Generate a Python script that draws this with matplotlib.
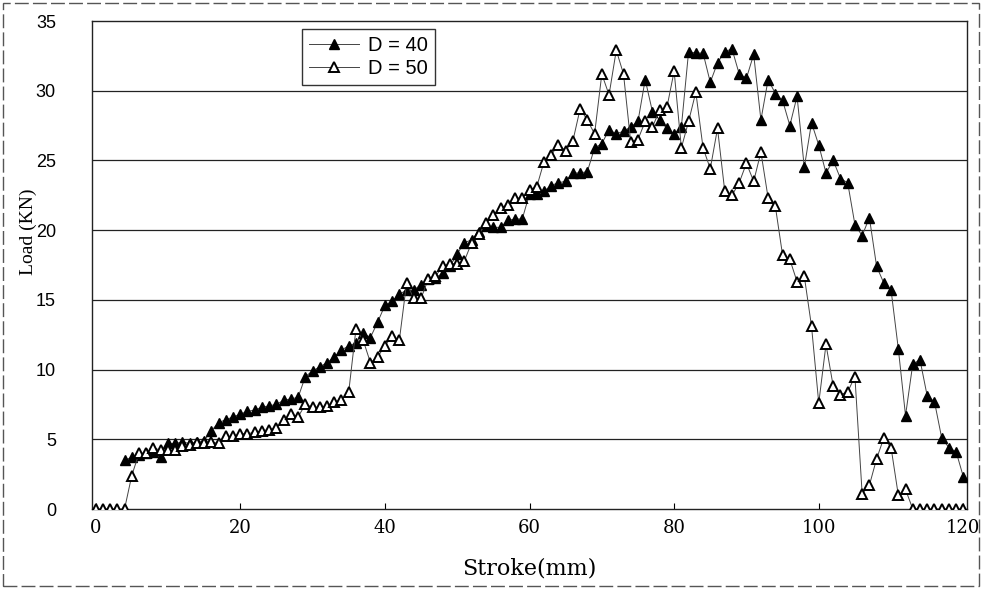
import matplotlib
matplotlib.use("Agg")
import matplotlib.pyplot as plt
from matplotlib.patches import Rectangle

# stroke categories (mm), one reading per mm
stroke_d50 = list(range(0, 121))
stroke_d40 = list(range(4, 121))

load_d40 = [
    3.5, 3.7, 3.9, 4.0, 4.1, 3.7, 4.7, 4.7, 4.8, 4.7, 4.8, 4.9, 5.6, 6.2, 6.4, 6.6,
    6.8, 7.0, 7.1, 7.3, 7.4, 7.5, 7.8, 7.9, 8.0,
    9.5, 9.9, 10.2, 10.5, 10.9, 11.4, 11.7, 11.9, 12.6, 12.3,
    13.4, 14.6, 14.9, 15.4, 15.7, 15.7, 16.1, 16.5, 16.6, 16.9,
    17.4, 18.3, 19.1, 19.3, 19.9, 20.3, 20.2, 20.2, 20.7, 20.8,
    20.8, 22.6, 22.6, 22.8, 23.2, 23.4, 23.5, 24.1, 24.1, 24.2,
    25.9, 26.2, 27.2, 26.9, 27.1, 27.4, 27.8, 30.8, 28.5, 27.9,
    27.3, 26.9, 27.4, 32.8, 32.7, 32.7, 30.6, 32.0, 32.8, 33.0,
    31.2, 30.9, 32.6, 27.9, 30.8, 29.8, 29.3, 27.5, 29.6, 24.5,
    27.7, 26.1, 24.1, 25.0, 23.7, 23.4, 20.4, 19.6, 20.9, 17.4,
    16.2, 15.7, 11.5, 6.7, 10.4, 10.7, 8.1, 7.7, 5.1, 4.4,
    4.1, 2.3,
]

load_d50 = [
    0, 0, 0, 0, 0, 2.4, 4.0, 4.0, 4.4, 4.2,
    4.2, 4.2, 4.5, 4.6, 4.7, 4.7, 4.8, 4.7, 5.2, 5.2,
    5.4, 5.4, 5.5, 5.6, 5.7, 5.8, 6.4, 6.8, 6.6, 7.5,
    7.3, 7.3, 7.4, 7.7, 7.8, 8.4, 12.9, 12.1, 10.5, 10.9,
    11.7, 12.4, 12.1, 16.2, 15.1, 15.1, 16.5, 16.7, 17.4, 17.6,
    17.6, 17.8, 19.1, 19.7, 20.5, 21.1, 21.6, 21.8, 22.3, 22.3,
    22.9, 23.1, 24.9, 25.4, 26.1, 25.7, 26.4, 28.7, 27.9, 26.9,
    31.2, 29.7, 32.9, 31.2, 26.3, 26.5, 27.8, 27.4, 28.6, 28.8,
    31.4, 25.9, 27.8, 29.9, 25.9, 24.4, 27.3, 22.8, 22.5, 23.4,
    24.8, 23.5, 25.6, 22.3, 21.7, 18.2, 17.9, 16.3, 16.7, 13.1,
    7.6, 11.8, 8.8, 8.2, 8.4, 9.5, 1.1, 1.7, 3.6, 5.1,
    4.4, 1.0, 1.4, 0, 0, 0, 0, 0, 0, 0,
    0,
]

x_ticks = [0, 20, 40, 60, 80, 100, 120]
y_ticks = [0, 5, 10, 15, 20, 25, 30, 35]

fig = plt.figure(figsize=(9.82, 5.89), dpi=100)
ax = fig.add_axes([92 / 982, 1 - 509 / 589, 875 / 982, 488 / 589])

for y in y_ticks[1:-1]:
    ax.axhline(y, color="#222222", lw=0.9, zorder=1)

ax.plot(stroke_d40, load_d40, color="#444444", lw=0.7, marker="^",
        markersize=7, markerfacecolor="black", markeredgecolor="black",
        label="D = 40", zorder=3)
ax.plot(stroke_d50, load_d50, color="#444444", lw=0.7, marker="^",
        markersize=7, markerfacecolor="white", markeredgecolor="black",
        markeredgewidth=1.4, label="D = 50", zorder=4)

ax.set_xlim(-0.5, 120.5)
ax.set_ylim(0, 35)
ax.set_xticks(x_ticks)
ax.set_yticks(y_ticks)
ax.set_xticklabels([str(t) for t in x_ticks], family="DejaVu Serif", fontsize=13)
ax.set_yticklabels([str(t) for t in y_ticks], family="Liberation Sans", fontsize=13)
ax.tick_params(axis="x", direction="in", length=4, width=0.8, pad=7)
ax.tick_params(axis="y", length=0, pad=26)

for s in ax.spines.values():
    s.set_color("#222222")
    s.set_linewidth(1.0)

fig.text(529 / 982, 1 - 568 / 589, "Stroke(mm)", family="DejaVu Serif",
         fontsize=16, ha="center", va="center")
fig.text(28 / 982, 1 - 232 / 589, "Load (KN)", family="Liberation Serif",
         fontsize=14, rotation=90, ha="center", va="center")

leg = ax.legend(loc="upper left", bbox_to_anchor=(0.24, 0.984),
                prop={"family": "Liberation Sans", "size": 14.5},
                frameon=True, fancybox=False, handlelength=2.5,
                handletextpad=0.45, borderpad=0.35, labelspacing=0.2,
                borderaxespad=0)
leg.get_frame().set_edgecolor("black")
leg.get_frame().set_linewidth(1.0)

# dashed outer border of the scanned figure
fig.patches.append(Rectangle((3 / 982, 3 / 589), 976 / 982, 583 / 589,
                             transform=fig.transFigure, fill=False,
                             edgecolor="#555555", lw=1.0,
                             linestyle=(0, (10, 3))))

fig.savefig("out.png", dpi=100)
